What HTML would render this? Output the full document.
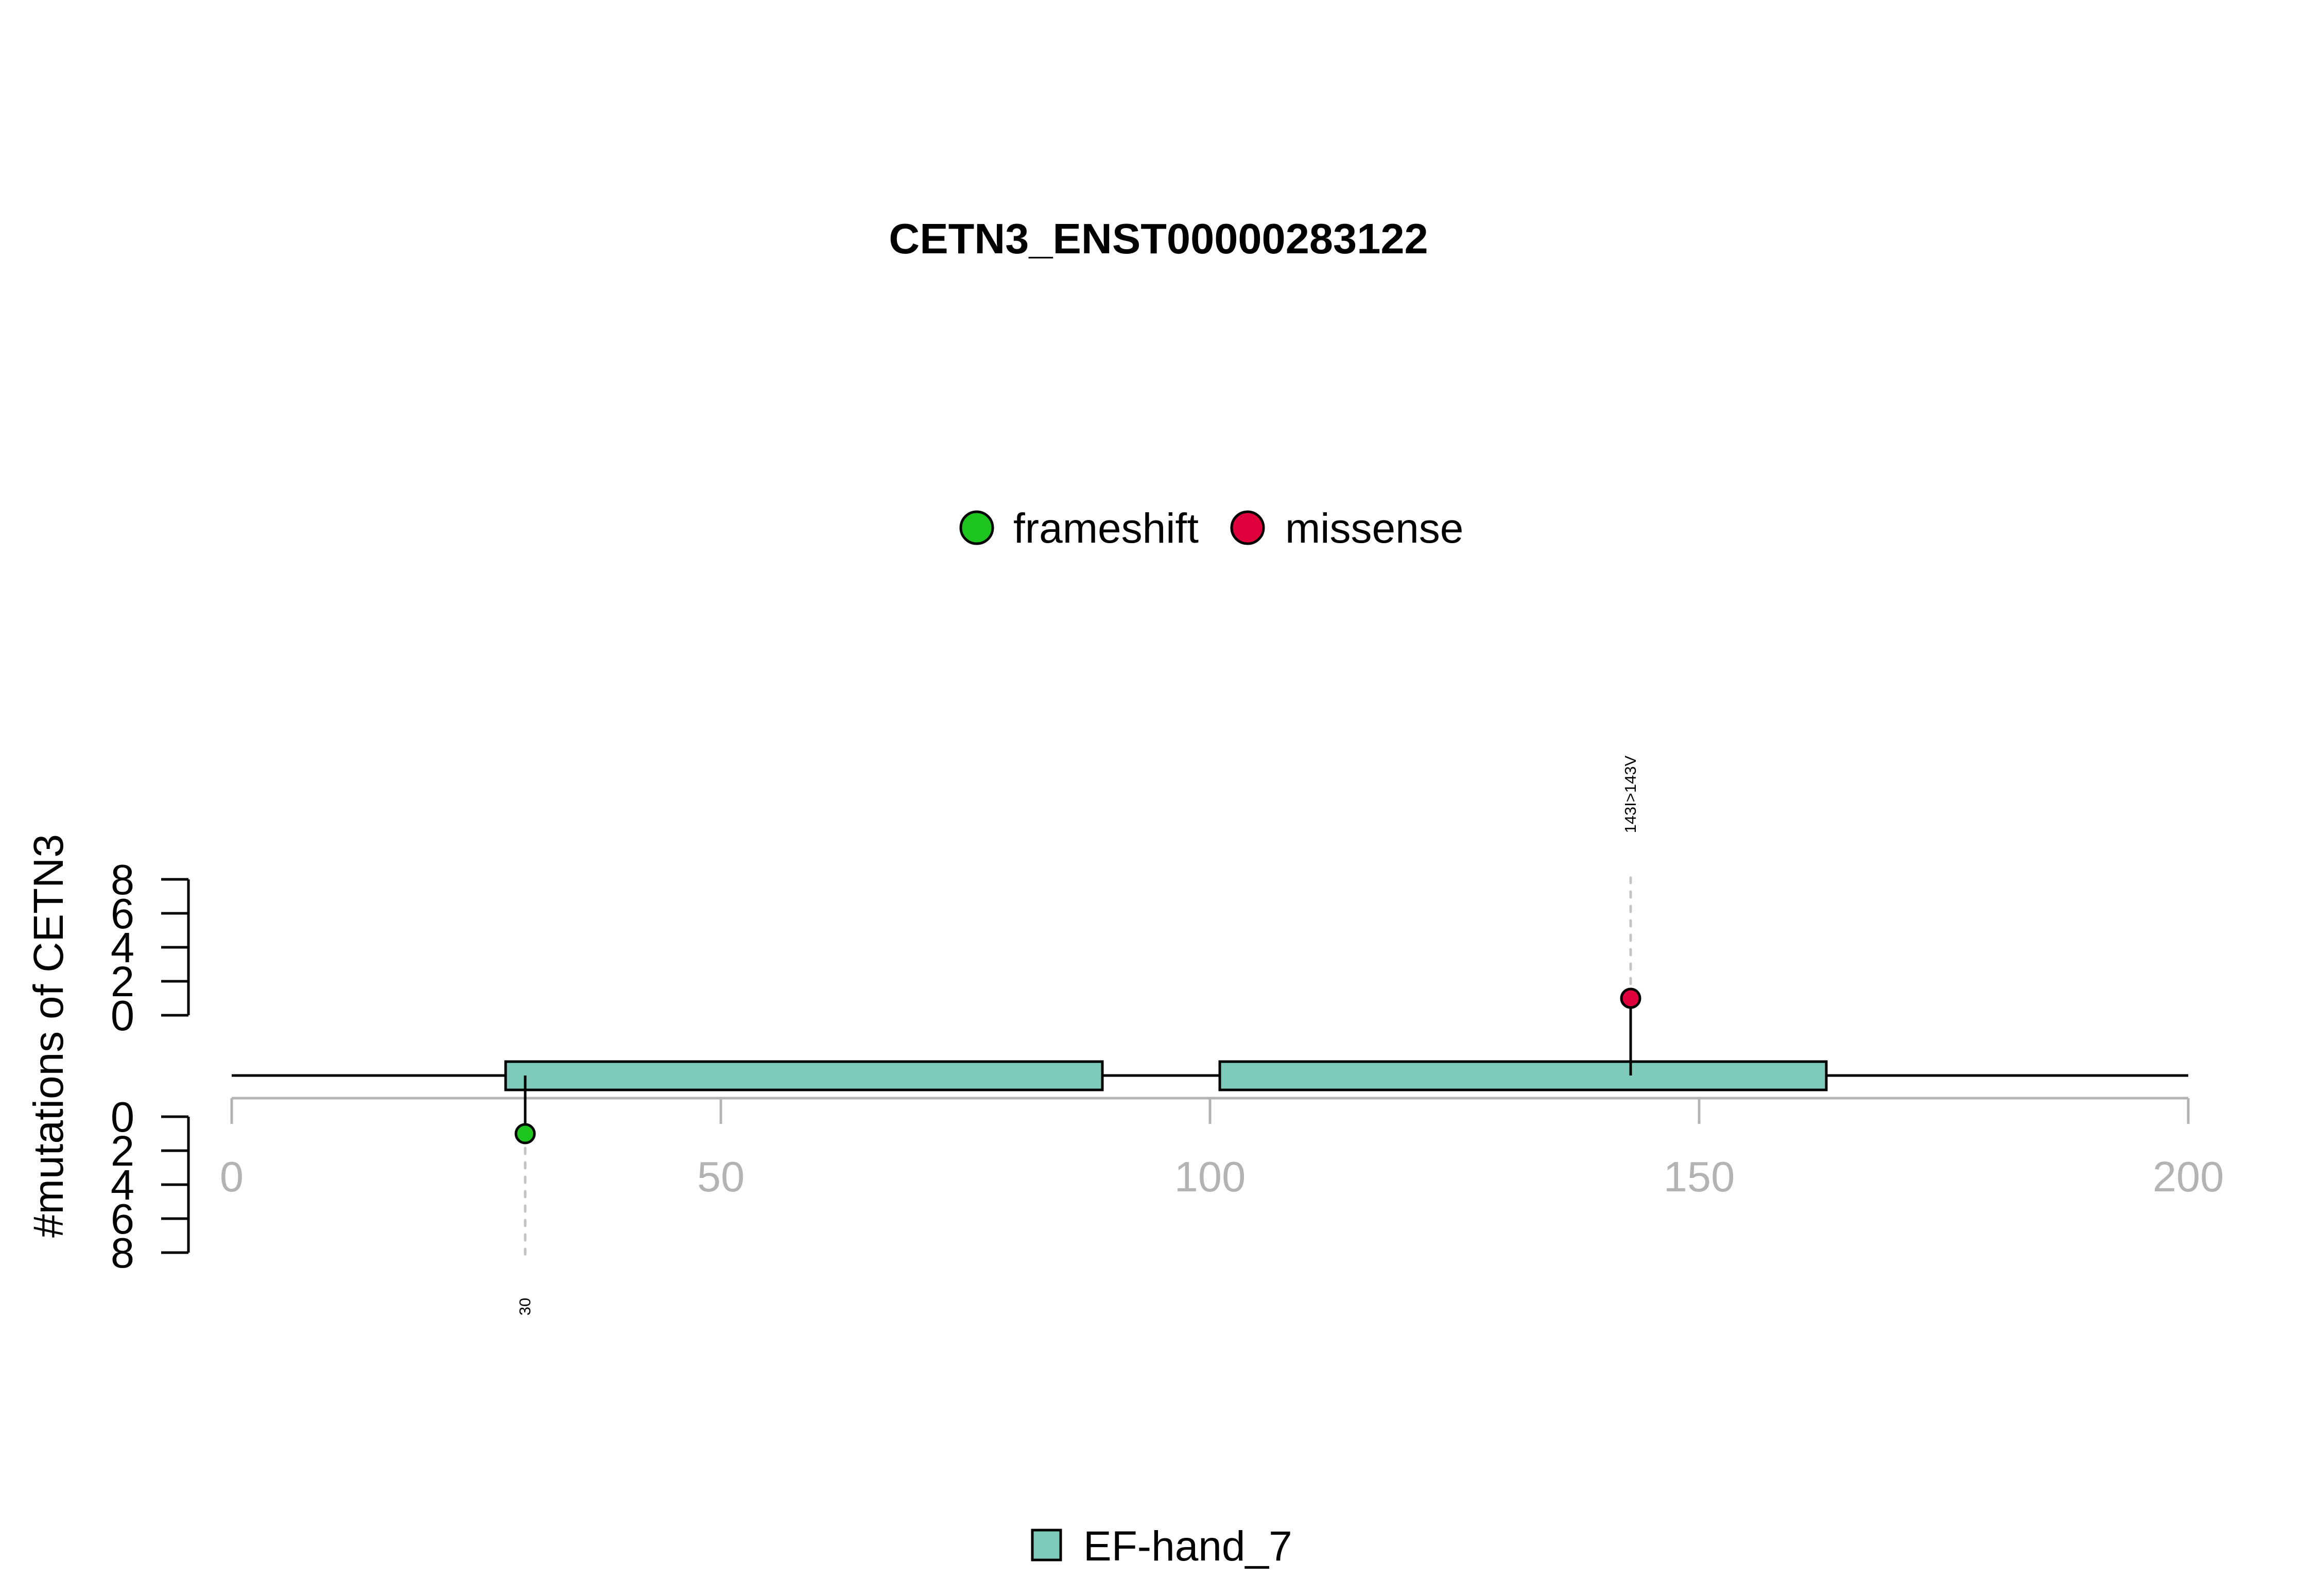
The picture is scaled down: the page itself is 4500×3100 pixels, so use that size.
<!DOCTYPE html>
<html><head><meta charset="utf-8"><style>
html,body{margin:0;padding:0;background:#fff}
svg{display:block;font-family:"Liberation Sans",Arial,sans-serif}
</style></head><body>
<svg id="chart" width="4500" height="3100" viewBox="0 0 4500 3100" xmlns="http://www.w3.org/2000/svg">
<rect width="4500" height="3100" fill="#fff"/>
<text x="2250" y="492" text-anchor="middle" font-size="83" font-weight="bold">CETN3_ENST00000283122</text>
<g>
<circle cx="1897" cy="1025" r="31" fill="#1ec51e" stroke="#000" stroke-width="5"/>
<text x="1968" y="1054" font-size="82">frameshift</text>
<circle cx="2423" cy="1025" r="31" fill="#e0003c" stroke="#000" stroke-width="5"/>
<text x="2496" y="1054" font-size="82">missense</text>
</g>
<text transform="translate(122,2012) rotate(-90)" text-anchor="middle" font-size="82">#mutations of CETN3</text>
<g id="plot"></g>
<g>
<rect x="2005" y="2972" width="55" height="58" fill="#7fcbbb" stroke="#000" stroke-width="5"/>
<text x="2104" y="3031" font-size="82">EF-hand_7</text>
</g>
</svg>
<script>
const proteinLength = 200;
const xTicks = [0, 50, 100, 150, 200];
const countTicks = [0, 2, 4, 6, 8];
const domainNames = ["EF-hand_7", "EF-hand_7"];
const domainStarts = [28, 101];
const domainEnds = [89, 163];
const mutPositions = [30, 143];
const mutCounts = [1, 1];
const mutTypes = ["frameshift", "missense"];
const mutLabels = ["30", "143I>143V"];
const mutSides = ["down", "up"];

const NS = "http://www.w3.org/2000/svg";
const g = document.getElementById("plot");
const X = v => 450 + v * 19;
const Yup = c => 1972 - c * 33;
const Ydn = c => 2169 + c * 33;
const backboneY = 2089;
function mk(tag, attrs, parent) {
  const e = document.createElementNS(NS, tag);
  for (const k in attrs) e.setAttribute(k, attrs[k]);
  (parent || g).appendChild(e);
  return e;
}
let e = mk("line", {x1: X(0), x2: X(proteinLength), y1: 2133, y2: 2133, stroke: "#b3b3b3", "stroke-width": 5});


xTicks.forEach(t => {
  const tk = mk("line", {x1: X(t), x2: X(t), y1: 2133, y2: 2183, stroke: "#b3b3b3", "stroke-width": 5});
  
  
  const lb = mk("text", {x: X(t), y: 2314, "text-anchor": "middle", "font-size": 83, fill: "#b3b3b3"});
  lb.textContent = t;
  
  
});
[[Yup, 'upper'], [Ydn, 'lower']].forEach(([Y, nm]) => {
  const ax = mk("line", {x1: 366, x2: 366, y1: Y(0), y2: Y(8), stroke: "#000", "stroke-width": 5});
  
  
  countTicks.forEach(c => {
    const tk = mk("line", {x1: 313, x2: 366, y1: Y(c), y2: Y(c), stroke: "#000", "stroke-width": 5});
    
    
    const lb = mk("text", {x: 261, y: Y(c) + 29, "text-anchor": "end", "font-size": 83});
    lb.textContent = c;
    
    
  });
});
e = mk("line", {x1: X(0), x2: X(proteinLength), y1: backboneY, y2: backboneY, stroke: "#000", "stroke-width": 5});


domainStarts.forEach((s, i) => {
  const r = mk("rect", {x: X(s), y: 2062, width: X(domainEnds[i]) - X(s), height: 55, fill: "#7fcbbb", stroke: "#000", "stroke-width": 5});
  
  
});
mutPositions.forEach((p, i) => {
  const up = mutSides[i] === "up";
  const Y = up ? Yup : Ydn;
  const cx = X(p), cy = Y(mutCounts[i]);
  const dash = mk("line", {x1: cx, x2: cx, y1: cy, y2: Y(8.1), stroke: "#c4c4c4", "stroke-width": 5, "stroke-dasharray": "11 17", "stroke-linecap": "round"});
  
  
  const stem = mk("line", {x1: cx, x2: cx, y1: backboneY, y2: cy, stroke: "#000", "stroke-width": 5});
  
  
  const c = mk("circle", {cx: cx, cy: cy, r: 18, fill: mutTypes[i] === "frameshift" ? "#1ec51e" : "#e0003c", stroke: "#000", "stroke-width": 5});
  
  
  const ly = up ? Y(8) - 165 : Y(8) + 105;
  const t = mk("text", {transform: `translate(${cx + 10},${ly}) rotate(-90)`, "text-anchor": "middle", "font-size": 31});
  t.textContent = mutLabels[i];
  
  
});
</script>
</body></html>
